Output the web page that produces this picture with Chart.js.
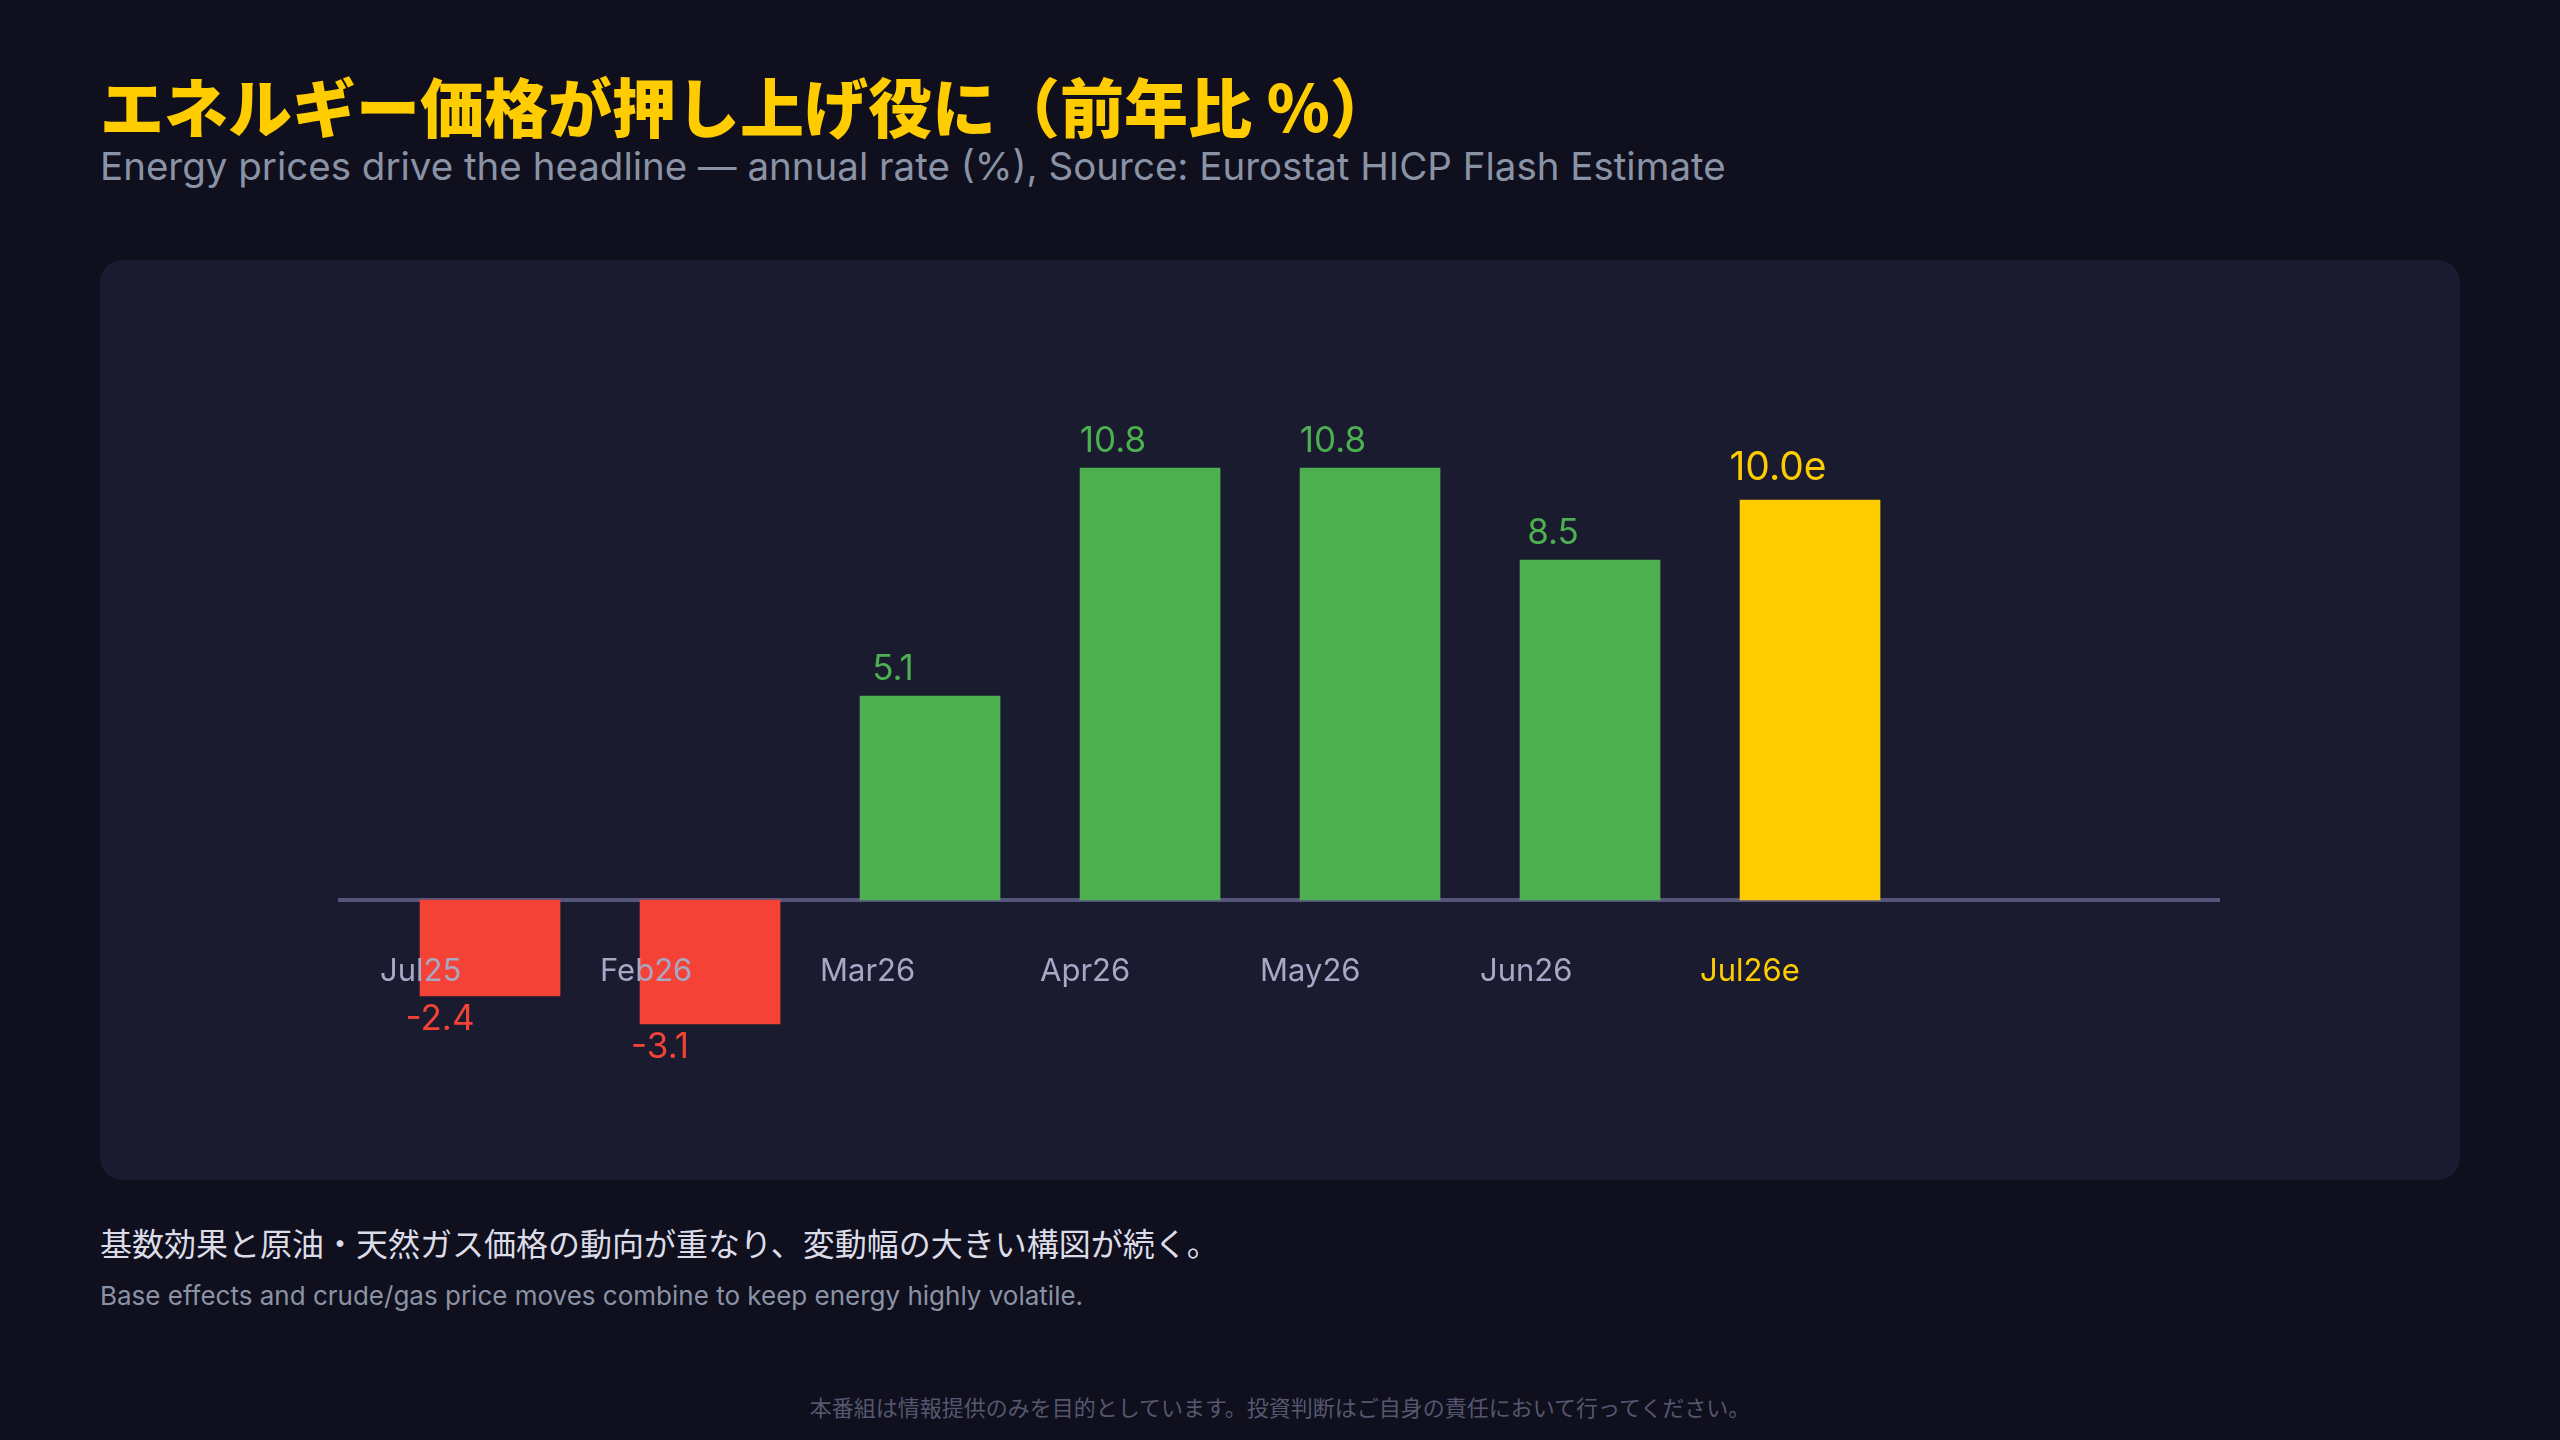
<!DOCTYPE html>
<html lang="ja">
<head>
<meta charset="utf-8">
<title>エネルギー価格が押し上げ役に</title>
<script src="https://cdn.jsdelivr.net/npm/chart.js@4.4.1/dist/chart.umd.min.js"></script>
<style>
  html, body { margin: 0; padding: 0; }
  body {
    width: 2560px; height: 1440px; position: relative; overflow: hidden;
    background: #0f0f1d;
    font-family: Inter, "Noto Sans CJK JP", sans-serif;
  }
  .txt { position: absolute; line-height: 1; white-space: nowrap; }
  #title { left: 100px; top: 58px; font: 900 64px "Noto Sans CJK JP", sans-serif; color: #ffcc00; }
  #subtitle { left: 100px; top: 143px; font: 400 38.5px Inter, sans-serif; color: #8a93a6; }
  #card {
    position: absolute; left: 100px; top: 260px; width: 2360px; height: 920px;
    background: #1a1b2f; border-radius: 22px;
  }
  #chart { position: absolute; left: 0; top: 0; }
  #note { left: 100px; top: 1219px; font: 400 32px "Noto Sans CJK JP", sans-serif; color: #dcdce8; }
  #noteEn { left: 100px; top: 1280px; font: 400 26px Inter, sans-serif; color: #8a93a6; }
  #disclaimer { left: 0; width: 2560px; text-align: center; top: 1390px; font: 400 22px "Noto Sans CJK JP", sans-serif; color: #56576f; }
</style>
</head>
<body>
<div id="title" class="txt">エネルギー価格が押し上げ役に（前年比 %）</div>
<div id="subtitle" class="txt">Energy prices drive the headline — annual rate (%), Source: Eurostat HICP Flash Estimate</div>
<div id="card"><canvas id="chart" width="2360" height="920"></canvas></div>
<div id="note" class="txt">基数効果と原油・天然ガス価格の動向が重なり、変動幅の大きい構図が続く。</div>
<div id="noteEn" class="txt">Base effects and crude/gas price moves combine to keep energy highly volatile.</div>
<div id="disclaimer" class="txt">本番組は情報提供のみを目的としています。投資判断はご自身の責任において行ってください。</div>

<script>
// データ（前年比 %）
const months = ['Jul25', 'Feb26', 'Mar26', 'Apr26', 'May26', 'Jun26', 'Jul26e'];
const energyYoY = [-2.4, -3.1, 5.1, 10.8, 10.8, 8.5, 10.0];
const valueLabels = ['-2.4', '-3.1', '5.1', '10.8', '10.8', '8.5', '10.0e'];
const isEstimate = [false, false, false, false, false, false, true];

const GREEN = '#4caf50';
const RED = '#f44336';
const YELLOW = '#ffcc00';

function barColor(i) {
    if (isEstimate[i]) return YELLOW;
    return energyYoY[i] < 0 ? RED : GREEN;
}

// 棒の上下に数値ラベルを描く
const valueLabelPlugin = {
    id: 'valueLabels',
    afterDatasetsDraw(chart) {
        const ctx = chart.ctx;
        const meta = chart.getDatasetMeta(0);
        ctx.save();
        ctx.textAlign = 'center';
        ctx.textBaseline = 'alphabetic';
        meta.data.forEach((bar, i) => {
            const v = energyYoY[i];
            const est = isEstimate[i];
            ctx.font = (est ? '39px' : '35px') + ' Inter, sans-serif';
            ctx.fillStyle = barColor(i);
            if (v < 0) {
                ctx.fillText(valueLabels[i], bar.x - 50, bar.y + 34);
            } else {
                ctx.fillText(valueLabels[i], bar.x - (est ? 32 : 37), bar.y - (est ? 20 : 16));
            }
        });
        ctx.restore();
    }
};

const ctx = document.getElementById('chart').getContext('2d');
const chart = new Chart(ctx, {
    type: 'bar',
    data: {
        datasets: [{
            label: 'Energy',
            data: energyYoY.map((v, i) => ({ x: i, y: v })),
            backgroundColor: months.map((m, i) => barColor(i)),
            borderWidth: 0,
            barThickness: 140
        }]
    },
    options: {
        responsive: false,
        animation: false,
        devicePixelRatio: 1,
        layout: {
            padding: { left: 240, right: 241, top: 80, bottom: 40 }
        },
        plugins: {
            legend: { display: false },
            tooltip: { enabled: false }
        },
        scales: {
            x: {
                type: 'linear',
                position: { y: 0 },   // ゼロ線の位置に軸を置く
                min: -0.682,
                max: 7.859,
                bounds: 'data',
                offset: false,
                grid: { display: false, drawTicks: false },
                border: { display: true, color: '#55567a', width: 4 },
                afterBuildTicks: (scale) => {
                    // ラベルは各区分の左端に置く
                    scale.ticks = months.map((m, i) => ({ value: i - 0.5 }));
                },
                ticks: {
                    z: 1,             // 月ラベルは棒の上に描く
                    autoSkip: false,
                    maxRotation: 0,
                    align: 'start',
                    padding: 53,
                    font: { family: 'Inter', size: 31 },
                    color: (c) => (isEstimate[c.index] ? YELLOW : '#a6a8c6'),
                    callback: (value, index) => months[index]
                }
            },
            y: {
                display: false,
                min: -6,
                max: 14
            }
        }
    },
    plugins: [valueLabelPlugin]
});
</script>
</body>
</html>
